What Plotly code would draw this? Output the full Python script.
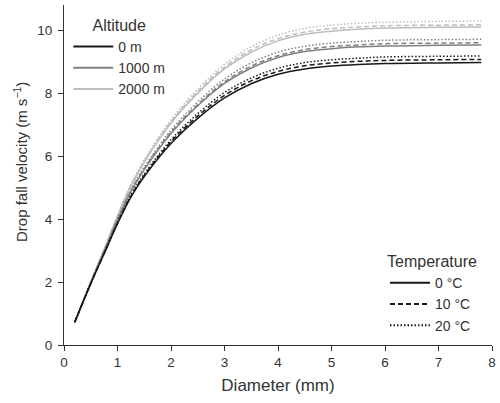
import plotly.graph_objects as go

diameter = [0.2, 0.5, 0.75, 1.0, 1.25, 1.5, 2.0, 2.5, 3.0, 3.5, 4.0, 4.5, 5.0, 5.5, 6.0, 7.0, 7.8]

v_0m_0C = [0.72, 1.95, 2.90, 3.85, 4.70, 5.35, 6.40, 7.20, 7.85, 8.30, 8.60, 8.77, 8.86, 8.91, 8.94, 8.96, 8.97]
v_0m_10C = [0.72, 1.95, 2.91, 3.87, 4.73, 5.39, 6.46, 7.27, 7.93, 8.39, 8.69, 8.87, 8.96, 9.01, 9.04, 9.06, 9.07]
v_0m_20C = [0.72, 1.96, 2.92, 3.89, 4.76, 5.43, 6.52, 7.35, 8.02, 8.48, 8.79, 8.97, 9.06, 9.11, 9.15, 9.17, 9.18]
v_1000m_0C = [0.72, 1.97, 2.96, 3.97, 4.87, 5.57, 6.72, 7.60, 8.31, 8.80, 9.13, 9.32, 9.41, 9.47, 9.50, 9.52, 9.53]
v_1000m_10C = [0.72, 1.98, 2.97, 3.98, 4.89, 5.60, 6.76, 7.64, 8.36, 8.86, 9.19, 9.38, 9.48, 9.53, 9.57, 9.59, 9.60]
v_1000m_20C = [0.72, 1.98, 2.98, 4.00, 4.93, 5.65, 6.82, 7.72, 8.45, 8.96, 9.30, 9.49, 9.59, 9.64, 9.68, 9.70, 9.71]
v_2000m_0C = [0.72, 2.00, 3.03, 4.08, 5.04, 5.80, 7.05, 8.00, 8.77, 9.30, 9.66, 9.87, 9.97, 10.03, 10.07, 10.09, 10.10]
v_2000m_10C = [0.72, 2.00, 3.04, 4.10, 5.07, 5.83, 7.09, 8.05, 8.83, 9.37, 9.73, 9.94, 10.05, 10.10, 10.14, 10.16, 10.17]
v_2000m_20C = [0.72, 2.01, 3.05, 4.12, 5.10, 5.88, 7.15, 8.13, 8.92, 9.47, 9.84, 10.06, 10.16, 10.22, 10.25, 10.28, 10.29]

altitudes = ["0 m", "1000 m", "2000 m"]
temperatures = ["0 °C", "10 °C", "20 °C"]
alt_colors = ["#1a1a1a", "#808080", "#bdbdbd"]
temp_dashes = ["solid", "5px,3px", "1.5px,2px"]

series = {
    ("0 m", "0 °C"): v_0m_0C, ("0 m", "10 °C"): v_0m_10C, ("0 m", "20 °C"): v_0m_20C,
    ("1000 m", "0 °C"): v_1000m_0C, ("1000 m", "10 °C"): v_1000m_10C, ("1000 m", "20 °C"): v_1000m_20C,
    ("2000 m", "0 °C"): v_2000m_0C, ("2000 m", "10 °C"): v_2000m_10C, ("2000 m", "20 °C"): v_2000m_20C,
}

FONT = "Liberation Sans, Arial, sans-serif"
TXT = "#333"
fig = go.Figure()

for ai in [2, 1, 0]:
    alt = altitudes[ai]
    for ti, temp in enumerate(temperatures):
        fig.add_trace(go.Scatter(
            x=diameter, y=series[(alt, temp)], mode="lines",
            line=dict(color=alt_colors[ai], width=1.5, dash=temp_dashes[ti], shape="spline", smoothing=1.0),
            showlegend=False, hoverinfo="skip"))

for ai, alt in enumerate(altitudes):
    fig.add_trace(go.Scatter(x=[None], y=[None], mode="lines", name=alt,
                             line=dict(color=alt_colors[ai], width=2), legend="legend"))
for ti, temp in enumerate(temperatures):
    fig.add_trace(go.Scatter(x=[None], y=[None], mode="lines", name=temp,
                             line=dict(color="#1a1a1a", width=2, dash=temp_dashes[ti]), legend="legend2"))

axis_common = dict(showline=True, linecolor=TXT, linewidth=1, ticks="outside", ticklen=5,
                   tickcolor=TXT, showgrid=False, zeroline=False,
                   tickfont=dict(size=13.5, color=TXT, family=FONT))

fig.update_layout(
    width=500, height=403,
    margin=dict(l=64, r=8, t=5, b=58),
    plot_bgcolor="white", paper_bgcolor="white",
    font=dict(family=FONT, color=TXT),
    xaxis=dict(range=[0, 8], tickvals=[0, 1, 2, 3, 4, 5, 6, 7, 8],
               title=dict(text="Diameter (mm)", font=dict(size=17, family=FONT, color=TXT), standoff=9),
               **axis_common),
    yaxis=dict(range=[0, 10.8], tickvals=[0, 2, 4, 6, 8, 10], ticklabelstandoff=3,
               **axis_common),
    annotations=[dict(text="Drop fall velocity (m s<sup>−1</sup>)", textangle=-90,
                      xref="paper", yref="paper", x=-0.103, y=0.538,
                      xanchor="center", yanchor="middle", showarrow=False,
                      font=dict(size=15, family=FONT, color=TXT))],
    legend=dict(x=0.01, y=0.985, xanchor="left", yanchor="top", bgcolor="rgba(0,0,0,0)",
                itemwidth=40,
                title=dict(text="Altitude", side="top center", font=dict(size=16, family=FONT, color=TXT)),
                font=dict(size=14, family=FONT, color=TXT), tracegroupgap=0),
    legend2=dict(x=0.75, y=0.29, xanchor="left", yanchor="top", bgcolor="rgba(0,0,0,0)",
                 itemwidth=40,
                 title=dict(text="Temperature", side="top center", font=dict(size=16, family=FONT, color=TXT)),
                 font=dict(size=14, family=FONT, color=TXT), tracegroupgap=0),
)

fig.write_html("out.html")
